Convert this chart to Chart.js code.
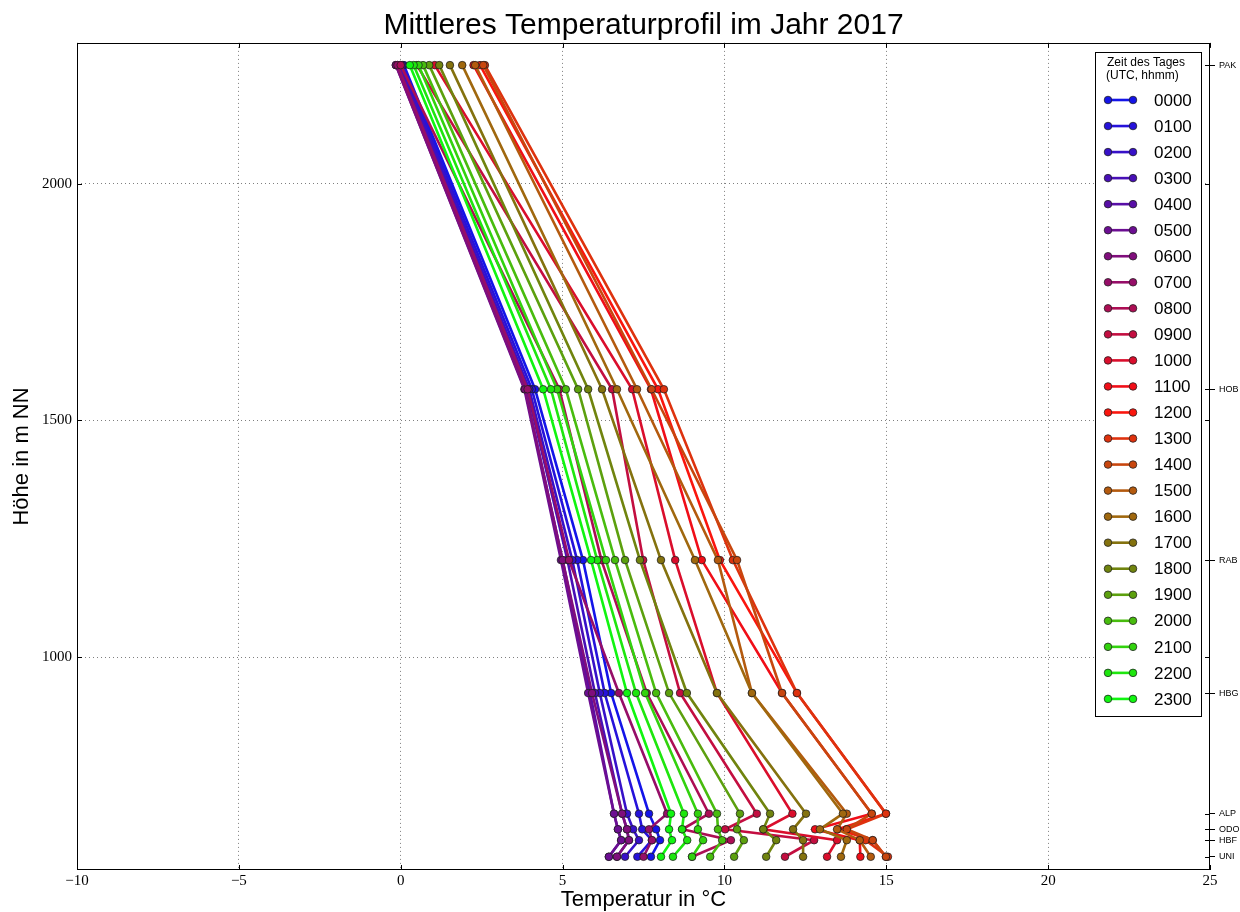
<!DOCTYPE html>
<html>
<head>
<meta charset="utf-8">
<title>Mittleres Temperaturprofil im Jahr 2017</title>
<script src="https://cdn.jsdelivr.net/npm/chart.js@4.4.0/dist/chart.umd.min.js"></script>
<style>
  html, body { margin: 0; padding: 0; background: #fff; }
  #wrap { width: 1240px; height: 912px; }
</style>
</head>
<body>
<div id="wrap"><canvas id="profileChart" width="1240" height="912"></canvas></div>
<script>
// Stationen (Höhe in m NN) und Stunden des Tages
const stationNames = ['PAK', 'HOB', 'RAB', 'HBG', 'ALP', 'ODO', 'HBF', 'UNI'];
const stationHeights = [2251, 1566, 1205, 924, 669, 636, 613, 578];
const hourLabels = ['0000', '0100', '0200', '0300', '0400', '0500', '0600', '0700',
    '0800', '0900', '1000', '1100', '1200', '1300', '1400', '1500',
    '1600', '1700', '1800', '1900', '2000', '2100', '2200', '2300'];

// Mitteltemperatur je Station, ein Wert pro Stunde (0000 ... 2300)
const tPAK = [0.10, 0.05, 0.00, -0.05, -0.10, -0.15, -0.15, -0.10, 0.00, 0.50, 1.05, 2.25,
    2.45, 2.60, 2.55, 2.30, 1.90, 1.52, 1.19, 0.88, 0.69, 0.55, 0.40, 0.28];
const tHOB = [4.15, 4.05, 3.97, 3.90, 3.84, 3.82, 3.84, 3.92, 4.90, 6.53, 7.15, 7.73,
    7.95, 8.13, 7.75, 7.30, 6.68, 6.22, 5.79, 5.48, 5.10, 4.83, 4.64, 4.40];
const tRAB = [5.63, 5.45, 5.30, 5.15, 5.00, 4.95, 5.00, 5.20, 6.20, 7.49, 8.48, 9.30,
    9.86, 10.26, 10.39, 9.80, 9.09, 8.04, 7.39, 6.93, 6.62, 6.34, 6.07, 5.88];
const tHBG = [6.50, 6.30, 6.15, 6.00, 5.85, 5.79, 5.91, 6.74, 7.60, 8.63, 9.77, 11.78,
    12.24, 12.24, 11.78, 10.85, 10.85, 9.77, 8.84, 8.29, 7.89, 7.55, 7.27, 6.99];
const tALP = [7.67, 7.36, 6.99, 6.84, 6.59, 6.59, 6.84, 8.23, 9.52, 11.00, 12.10, 14.55,
    14.99, 14.99, 14.55, 13.78, 13.66, 12.52, 11.41, 10.48, 9.77, 9.18, 8.75, 8.35];
const tODO = [7.89, 7.46, 7.18, 6.99, 6.71, 6.71, 6.99, 7.67, 8.70, 10.02, 11.20, 12.80,
    13.50, 13.78, 13.78, 13.48, 12.95, 12.12, 11.20, 10.39, 9.80, 9.18, 8.69, 8.29];
const tHBF = [8.01, 7.76, 7.36, 7.05, 6.81, 6.81, 7.05, 7.76, 10.20, 12.77, 13.48, 14.18,
    14.58, 14.36, 14.58, 14.18, 13.78, 12.43, 11.60, 10.60, 9.93, 9.34, 8.85, 8.38];
const tUNI = [7.73, 7.31, 6.93, 6.68, 6.43, 6.43, 6.68, 7.50, 9.00, 11.87, 13.17, 14.20,
    14.99, 15.05, 14.99, 14.52, 13.60, 12.43, 11.29, 10.30, 9.56, 9.00, 8.41, 8.04];

const xTickValues = [-10, -5, 0, 5, 10, 15, 20, 25];
const yTickValues = [1000, 1500, 2000];

const stationTemps = [tPAK, tHOB, tRAB, tHBG, tALP, tODO, tHBF, tUNI];

// Farbverlauf blau -> rot -> grün über den Tag
const hourColors = [
    'rgb(20,20,232)', 'rgb(38,18,218)', 'rgb(55,17,200)', 'rgb(72,15,182)',
    'rgb(88,14,166)', 'rgb(108,14,146)', 'rgb(128,14,124)', 'rgb(150,14,104)',
    'rgb(172,14,84)', 'rgb(195,14,64)', 'rgb(218,14,44)', 'rgb(240,14,24)',
    'rgb(250,22,14)', 'rgb(222,50,14)', 'rgb(200,70,14)', 'rgb(180,90,14)',
    'rgb(160,104,14)', 'rgb(132,114,14)', 'rgb(112,132,14)', 'rgb(92,160,14)',
    'rgb(72,188,14)', 'rgb(50,210,14)', 'rgb(30,230,14)', 'rgb(16,245,16)'
];

Chart.defaults.font.family = '"Liberation Sans", Arial, sans-serif';
Chart.defaults.color = '#000';

const serifFont = { family: '"Liberation Serif", "DejaVu Serif", serif', size: 15 };
const gridDots = 'rgba(0,0,0,0.5)';

const datasets = hourLabels.map((label, i) => ({
    label: label,
    data: stationHeights.map((h, k) => ({ x: stationTemps[k][i], y: h })),
    showLine: true,
    borderColor: hourColors[i],
    backgroundColor: hourColors[i],
    borderWidth: 2.6,
    pointRadius: 3.8,
    pointBackgroundColor: hourColors[i],
    pointBorderColor: 'rgba(30,30,30,0.75)',
    pointBorderWidth: 1,
    order: hourLabels.length - i
}));

// Rahmen, Innenticks und Legende wie im Original
const frameAndLegend = {
    id: 'frameAndLegend',
    afterDraw(chart) {
        const ctx = chart.ctx;
        const area = chart.chartArea;
        const xs = chart.scales.x, ys = chart.scales.y;

        ctx.save();
        ctx.strokeStyle = '#000';
        ctx.lineWidth = 1;
        ctx.beginPath();
        xTickValues.forEach(v => {
            const px = Math.round(xs.getPixelForValue(v)) + 0.5;
            ctx.moveTo(px, area.bottom); ctx.lineTo(px, area.bottom - 5);
            ctx.moveTo(px, area.top); ctx.lineTo(px, area.top + 5);
        });
        yTickValues.forEach(v => {
            const py = Math.round(ys.getPixelForValue(v)) + 0.5;
            ctx.moveTo(area.left, py); ctx.lineTo(area.left + 5, py);
            ctx.moveTo(area.right, py); ctx.lineTo(area.right - 5, py);
        });
        stationHeights.forEach(h => {
            const py = Math.round(ys.getPixelForValue(h)) + 0.5;
            ctx.moveTo(area.right - 5, py); ctx.lineTo(area.right, py);
        });
        ctx.stroke();
        ctx.strokeRect(Math.round(area.left) + 0.5, Math.round(area.top) + 0.5,
            Math.round(area.right - area.left) - 1, Math.round(area.bottom - area.top) - 1);

        // Legende
        const lx = 1095.5, ly = 52.5, lw = 106, lh = 664;
        ctx.fillStyle = '#fff';
        ctx.fillRect(lx, ly, lw, lh);
        ctx.strokeRect(lx, ly, lw, lh);
        ctx.fillStyle = '#000';
        ctx.font = '12px "Liberation Sans", Arial, sans-serif';
        ctx.textAlign = 'left';
        ctx.textBaseline = 'middle';
        ctx.fillText('Zeit des Tages', 1107, 63);
        ctx.fillText('(UTC, hhmm)', 1106, 76);

        chart.data.datasets.forEach((ds, i) => {
            const y = 100 + i * 26.04;
            ctx.strokeStyle = ds.borderColor;
            ctx.lineWidth = 2.6;
            ctx.beginPath();
            ctx.moveTo(1108, y); ctx.lineTo(1133, y);
            ctx.stroke();
            [1108, 1133].forEach(mx => {
                ctx.beginPath();
                ctx.arc(mx, y, 3.8, 0, Math.PI * 2);
                ctx.fillStyle = ds.pointBackgroundColor;
                ctx.fill();
                ctx.lineWidth = 1;
                ctx.strokeStyle = 'rgba(30,30,30,0.75)';
                ctx.stroke();
            });
            ctx.fillStyle = '#000';
            ctx.font = '17px "Liberation Sans", Arial, sans-serif';
            ctx.fillText(ds.label, 1154, y + 1);
        });
        ctx.restore();
    }
};

new Chart(document.getElementById('profileChart'), {
    type: 'scatter',
    data: { datasets: datasets },
    options: {
        responsive: false,
        animation: false,
        devicePixelRatio: 1,
        layout: { padding: 0 },
        plugins: {
            legend: { display: false },
            tooltip: { enabled: false },
            title: {
                display: true,
                fullSize: false,
                text: 'Mittleres Temperaturprofil im Jahr 2017',
                font: { size: 30, weight: 'normal', lineHeight: 1.13 },
                color: '#000',
                padding: { top: 9, bottom: 0 }
            }
        },
        scales: {
            x: {
                type: 'linear',
                position: 'bottom',
                min: -10,
                max: 25,
                afterBuildTicks: scale => { scale.ticks = xTickValues.map(v => ({ value: v })); },
                afterFit: scale => { scale.height = 42; },
                ticks: {
                    font: serifFont,
                    color: '#000',
                    padding: 2,
                    maxRotation: 0,
                    callback: v => String(v).replace('-', '\u2212')
                },
                grid: {
                    color: c => (c.tick && (c.tick.value === -10 || c.tick.value === 25)) ? 'rgba(0,0,0,0)' : gridDots,
                    lineWidth: 1,
                    drawTicks: false
                },
                border: { display: false, dash: [1, 3] },
                title: {
                    display: true,
                    text: 'Temperatur in \u00b0C',
                    font: { size: 22, lineHeight: 1 },
                    color: '#000',
                    padding: { top: 0, bottom: 1 }
                }
            },
            y: {
                type: 'linear',
                position: 'left',
                min: 550,
                max: 2298,
                afterBuildTicks: scale => { scale.ticks = yTickValues.map(v => ({ value: v })); },
                afterFit: scale => { scale.width = 77; },
                ticks: { font: serifFont, color: '#000', padding: 5, callback: v => String(v) },
                grid: { color: gridDots, lineWidth: 1, drawTicks: false },
                border: { display: false, dash: [1, 3] },
                title: {
                    display: true,
                    text: 'Höhe in m NN',
                    font: { size: 22, lineHeight: 1 },
                    color: '#000',
                    padding: { top: 11, bottom: 0 }
                }
            },
            y2: {
                type: 'linear',
                position: 'right',
                display: true,
                min: 550,
                max: 2298,
                afterBuildTicks: scale => { scale.ticks = stationHeights.map(v => ({ value: v })); },
                afterFit: scale => { scale.width = 30; },
                ticks: {
                    autoSkip: false,
                    font: { size: 9 },
                    color: '#000',
                    padding: 4,
                    callback: (v, i) => stationNames[i]
                },
                grid: { drawOnChartArea: false, color: '#000', lineWidth: 1, tickLength: 5 },
                border: { display: false }
            }
        }
    },
    plugins: [frameAndLegend]
});
</script>
</body>
</html>
